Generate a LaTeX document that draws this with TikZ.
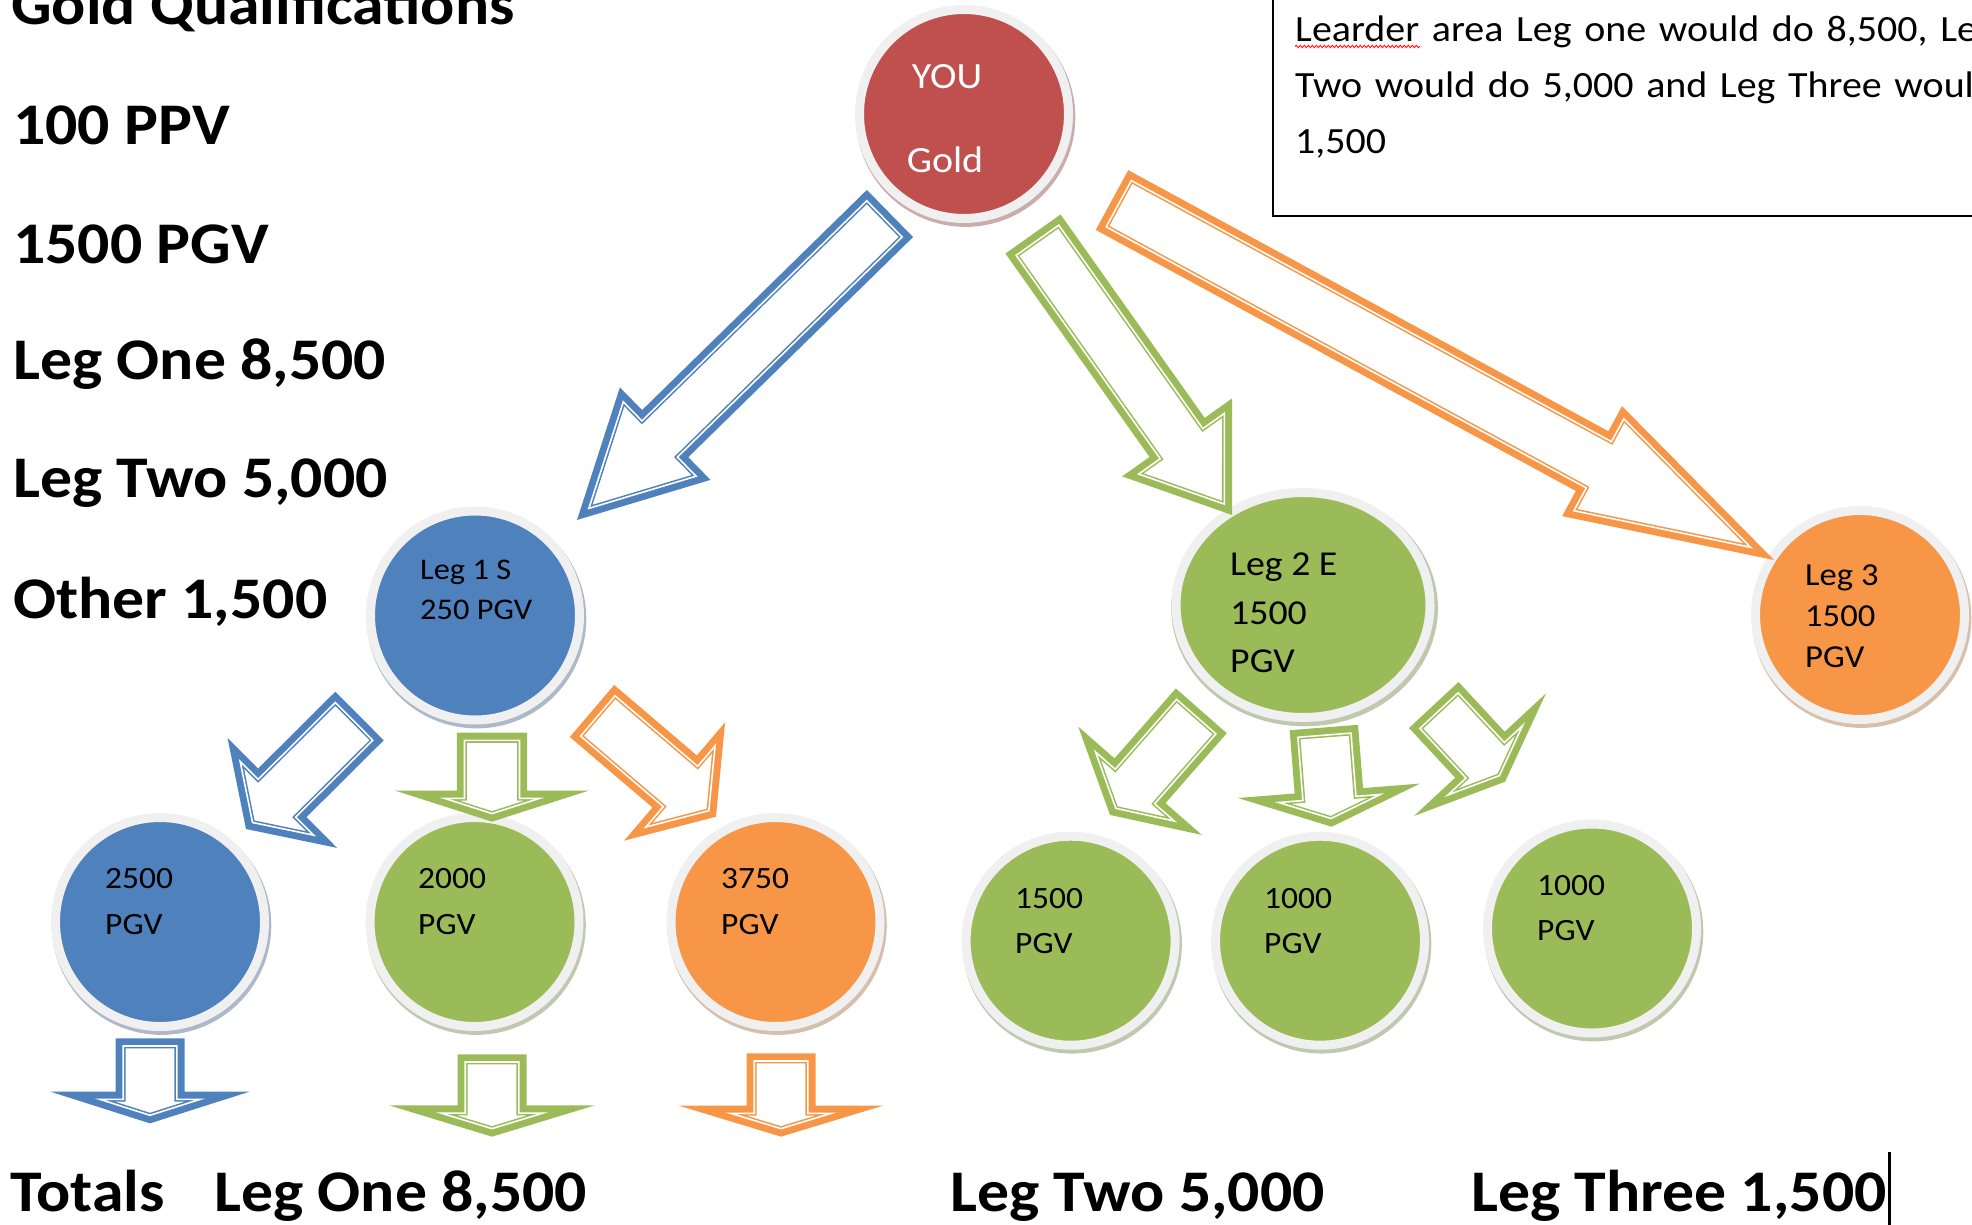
\documentclass[tikz,border=0pt]{standalone}
\usepackage{fontspec}
\setmainfont{Carlito}[FakeStretch=1.08]
\newfontfamily\notefont{Carlito}[FakeStretch=1.08, WordSpace=1.4]
\usepackage{tikz}
\usetikzlibrary{calc, shapes.geometric, shadows, decorations.pathmorphing}
\definecolor{youred}{HTML}{C0504D}
\definecolor{legblue}{HTML}{4F81BD}
\definecolor{leggreen}{HTML}{9BBB59}
\definecolor{legorange}{HTML}{F79646}
\definecolor{ringgray}{HTML}{F0F0F0}
% block arrow outline, shrunk inwards by #2
% #1 style, #2 inset, #3 tail, #4 tip, #5 shaft half width, #6 head half width, #7 head length
\newcommand{\arrowring}[7]{%
  \pgfmathsetmacro{\kk}{sqrt(1+(#6/#7)^2)}
  \pgfmathsetlengthmacro{\wi}{#5-#2}
  \pgfmathsetlengthmacro{\hi}{#6*(1-#2/#7)-#2*\kk}
  \pgfmathsetlengthmacro{\li}{#7-#2*#7*\kk/#6-#2}
  \pgfmathsetlengthmacro{\bi}{#7-#2}
  \coordinate (tbi) at ($(#3)!#2pt!(#4)$);
  \coordinate (hbi) at ($(#4)!\bi!(#3)$);
  \coordinate (tpi) at ($(hbi)!\li!(#4)$);
  \path[#1]
    ($(tbi)!\wi!90:(#4)$) -- ($(hbi)!\wi!90:(#4)$) -- ($(hbi)!\hi!90:(#4)$)
    -- (tpi)
    -- ($(hbi)!\hi!-90:(#4)$) -- ($(hbi)!\wi!-90:(#4)$) -- ($(tbi)!\wi!-90:(#4)$) -- cycle;
}
% #1 colour, #2 tail, #3 tip, #4 shaft half width, #5 head half width, #6 head length
\newcommand{\hollowarrow}[6]{%
  \arrowring{hollow=#1}{0}{#2}{#3}{#4}{#5}{#6}
  \arrowring{draw=#1, line width=6.8pt, miter limit=12}{3.35}{#2}{#3}{#4}{#5}{#6}
  \arrowring{gapline}{4.4}{#2}{#3}{#4}{#5}{#6}
}

\begin{document}
\begin{tikzpicture}[x=1pt, y=-1pt,
  bubble/.style={ellipse, inner sep=0pt, minimum width=209pt, minimum height=209pt, fill=#1, draw=ringgray, line width=9pt,
    drop shadow={shadow xshift=1.5pt, shadow yshift=-3pt, shadow scale=1.05, fill=#1!45!gray, opacity=0.55}},
  hollow/.style={draw=#1, fill=white, line width=6.6pt, miter limit=12},
  gapline/.style={draw=white, line width=1.6pt, miter limit=12},
  heading/.style={anchor=base west, inner sep=0pt, font=\fontsize{59}{71}\selectfont\bfseries},
  bubtxt/.style={anchor=north west, inner sep=0pt, align=left, font=\fontsize{31}{46}\selectfont},
  youtxt/.style={anchor=base, inner sep=0pt, text=white, font=\fontsize{37}{44}\selectfont}
]
\useasboundingbox (0,0) rectangle (1972,1225);
\clip (0,0) rectangle (1972,1225);

% ===== Qualification list =====
\node[heading] (qual)  at (11,25)  {Gold Qualifications};
\node[heading] (ppv)   at (13,145) {100 PPV};
\node[heading] (pgv)   at (13,263) {1500 PGV};
\node[heading] (one)   at (13,379) {Leg One 8,500};
\node[heading] (two)   at (13,497) {Leg Two 5,000};
\node[heading] (other) at (13,618) {Other 1,500};

% ===== Note box =====
\node[draw, line width=1.8pt, anchor=south west, minimum width=760pt, minimum height=260pt, inner sep=0pt] (note) at (1272,217) {};
\node[anchor=north west, inner sep=0pt, align=left, font=\notefont\fontsize{37}{56}\selectfont] (notetxt) at (1295,16)
  {Learder area Leg one would do 8,500, Le\\Two would do 5,000 and Leg Three woul\\1,500};
\draw[red, line width=0.8pt, decorate, decoration={snake, amplitude=1.2pt, segment length=4pt}] (1295,46.5) -- (1420,46.5);

% ===== Bubbles =====
\node[bubble=youred] (you) at (964,114) {};
\node[bubble=legblue] (leg1) at (475,615.5) {};
\node[bubble=leggreen, minimum width=254pt, minimum height=225pt] (leg2) at (1303,605) {};
\node[bubble=legorange] (leg3) at (1860,615) {};
\node[bubble=legblue] (l1a) at (160,922) {};
\node[bubble=leggreen] (l1b) at (474.5,922) {};
\node[bubble=legorange] (l1c) at (775.5,922) {};
\node[bubble=leggreen] (l2a) at (1070.6,940.7) {};
\node[bubble=leggreen] (l2b) at (1320,940.7) {};
\node[bubble=leggreen] (l2c) at (1592,928.5) {};

\node[youtxt] (youname) at (947,89)  {YOU};
\node[youtxt] (yourank) at (945,173) {Gold};
\node[bubtxt, font=\fontsize{30}{40}\selectfont] (leg1txt) at (420,560) {Leg 1 S\\250 PGV};
\node[bubtxt, font=\fontsize{35}{48.5}\selectfont] (leg2txt) at (1230,553) {Leg 2 E\\1500\\PGV};
\node[bubtxt, font=\fontsize{32}{41}\selectfont] (leg3txt) at (1805,565) {Leg 3\\1500\\PGV};
\node[bubtxt] (l1atxt) at (105,868) {2500\\PGV};
\node[bubtxt] (l1btxt) at (418,868) {2000\\PGV};
\node[bubtxt] (l1ctxt) at (721,868) {3750\\PGV};
\node[bubtxt, font=\fontsize{31}{45}\selectfont] (l2atxt) at (1015,888) {1500\\PGV};
\node[bubtxt, font=\fontsize{31}{45}\selectfont] (l2btxt) at (1264,888) {1000\\PGV};
\node[bubtxt, font=\fontsize{31}{45}\selectfont] (l2ctxt) at (1537,875) {1000\\PGV};

% ===== Arrows =====
\coordinate (a1t) at (887.6,215.8);   \coordinate (a1h) at (582.1,515.0);
\coordinate (a2t) at (1034.9,236.7);  \coordinate (a2h) at (1228.7,510.3);
\coordinate (a3t) at (1114.9,201.6);  \coordinate (a3h) at (1764.0,554.6);
\coordinate (b1t) at (357.2,718.3);   \coordinate (b1h) at (248.8,826.2);
\coordinate (b2t) at (492,736);       \coordinate (b2h) at (492,818.2);
\coordinate (b3t) at (594.5,713.1);   \coordinate (b3h) at (712.9,814.1);
\coordinate (c1t) at (1199.1,713.3);  \coordinate (c1h) at (1112.5,812.1);
\coordinate (c2t) at (1324.1,730.8);  \coordinate (c2h) at (1331.4,823.2);
\coordinate (c3t) at (1436.0,707.4);  \coordinate (c3h) at (1502.6,779.1);
\coordinate (t1t) at (150,1041.6);    \coordinate (t1h) at (150,1119.9);
\coordinate (t2t) at (492,1057.6);    \coordinate (t2h) at (492,1133.2);
\coordinate (t3t) at (781,1056.6);    \coordinate (t3h) at (781,1133.2);

\hollowarrow{legblue}{a1t}{a1h}{29.7}{59.3}{113}
\hollowarrow{leggreen}{a2t}{a2h}{30.5}{61}{86}
\hollowarrow{legorange}{a3t}{a3h}{30.7}{58.2}{192.4}
\hollowarrow{legblue}{b1t}{b1h}{31}{66.7}{44}
\hollowarrow{leggreen}{b2t}{b2h}{31.9}{75.8}{24.3}
\hollowarrow{legorange}{b3t}{b3h}{30.9}{67.3}{47}
\hollowarrow{leggreen}{c1t}{c1h}{30.6}{69.4}{38.4}
\hollowarrow{leggreen}{c2t}{c2h}{31}{74}{29.2}
\hollowarrow{leggreen}{c3t}{c3h}{30.5}{73.3}{30}
\hollowarrow{legblue}{t1t}{t1h}{31.2}{78.5}{25}
\hollowarrow{leggreen}{t2t}{t2h}{31.2}{80.5}{24.5}
\hollowarrow{legorange}{t3t}{t3h}{31.2}{80}{24.3}

% ===== Totals =====
\node[heading] (totals) at (10,1211)   {Totals};
\node[heading] (tone)   at (214,1211)  {Leg One 8,500};
\node[heading] (ttwo)   at (950,1211)  {Leg Two 5,000};
\node[heading] (tthree) at (1471,1211) {Leg Three 1,500};
\draw[line width=3pt] (1889,1152) -- (1889,1230);

\end{tikzpicture}
\end{document}
